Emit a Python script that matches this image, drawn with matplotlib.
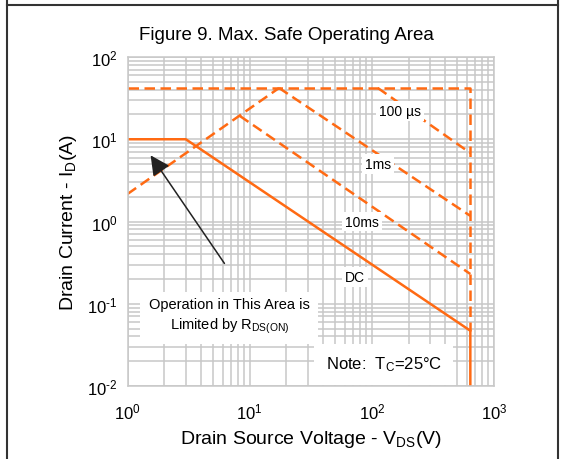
import numpy as np
import matplotlib.pyplot as plt
from matplotlib.lines import Line2D
from matplotlib.ticker import FuncFormatter

plt.rcParams['font.family'] = ['Liberation Sans', 'DejaVu Sans']
plt.rcParams['mathtext.fontset'] = 'custom'
plt.rcParams['mathtext.rm'] = 'Liberation Sans'
plt.rcParams['mathtext.it'] = 'Liberation Sans'

# SOA curves (V in volts, I in amps)
dc_v = [1, 3.0, 640, 640]
dc_i = [10, 10, 0.047, 0.01]
rds_v = [1, 17.4]
rds_i = [2.16, 42]
lim_v = [1, 640, 640]
lim_i = [42, 42, 0.047]
us100_v = [112, 640]
us100_i = [42, 6.8]
ms1_v = [17.4, 640]
ms1_i = [42, 1.17]
ms10_v = [8.3, 640]
ms10_i = [19.2, 0.23]

orange = '#ff6a13'
grid_c = '#c8c8c8'


def dec_label(v, pos):
    e = int(round(np.log10(v)))
    if e < 0:
        return r'$\mathregular{10^{\text{-}%d}}$' % -e
    return r'$\mathregular{10^{%d}}$' % e


fig = plt.figure(figsize=(5.66, 4.60), dpi=100)
ax = fig.add_axes([0.2253, 0.1587, 0.6475, 0.7152])
ax.set_xscale('log')
ax.set_yscale('log')
ax.set_xlim(1, 1000)
ax.set_ylim(0.01, 100)

ax.grid(which='both', color=grid_c, lw=1.1)
ax.set_axisbelow(True)
for s in ax.spines.values():
    s.set_color(grid_c)
    s.set_linewidth(1.1)
ax.tick_params(which='both', length=0, labelsize=12)
ax.tick_params(axis='x', pad=11)
ax.tick_params(axis='y', pad=7)
ax.xaxis.set_major_formatter(FuncFormatter(dec_label))
ax.yaxis.set_major_formatter(FuncFormatter(dec_label))

dash = (4.2, 2.2)
ax.plot(dc_v, dc_i, color=orange, lw=1.8)
for vv, ii in [(rds_v, rds_i), (lim_v, lim_i), (us100_v, us100_i),
               (ms1_v, ms1_i), (ms10_v, ms10_i)]:
    ax.plot(vv, ii, color=orange, lw=1.8, dashes=dash)

box = dict(facecolor='white', edgecolor='none', pad=2)
ax.text(170, 22, '100 µs', fontsize=10, ha='center', va='center', bbox=box)
ax.text(112, 5.0, '1ms', fontsize=10, ha='center', va='center', bbox=box)
ax.text(83, 1.0, '10ms', fontsize=10, ha='center', va='center', bbox=box)
ax.text(73, 0.21, 'DC', fontsize=10, ha='center', va='center', bbox=box)

ax.annotate('', xy=(1.5, 6.8), xytext=(6.4, 0.29),
            arrowprops=dict(arrowstyle='-|>,head_length=0.6,head_width=0.3',
                            color='#222222', lw=1.1, mutation_scale=20))
ax.text(6.8, 0.071, 'Operation in This Area is\nLimited by R$_{\\mathregular{DS(ON)}}$',
        fontsize=10.5, ha='center', va='center', linespacing=1.4,
        bbox=dict(facecolor='white', edgecolor='none', pad=6))
ax.text(125, 0.0185, 'Note:  T$_{\\mathregular{C}}$=25°C', fontsize=12,
        ha='center', va='center',
        bbox=dict(facecolor='white', edgecolor='none', pad=8))

ax.set_xlabel('Drain Source Voltage - V$_{\\mathregular{DS}}$(V)', fontsize=14, labelpad=5)
ax.set_ylabel('Drain Current - I$_{\\mathregular{D}}$(A)', fontsize=14, labelpad=6)
fig.text(0.506, 0.922, 'Figure 9. Max. Safe Operating Area', fontsize=13.5,
         ha='center', va='center')

# page frame of the datasheet
fig.add_artist(Line2D([6.5 / 566, 6.5 / 566], [0, 1], color='#333333', lw=1.5))
fig.add_artist(Line2D([558 / 566, 558 / 566], [0, 1], color='#333333', lw=1.5))
fig.add_artist(Line2D([6.5 / 566, 558 / 566], [1 - 5.5 / 460, 1 - 5.5 / 460],
                      color='#333333', lw=1.5))

fig.savefig('out.png', dpi=100)
